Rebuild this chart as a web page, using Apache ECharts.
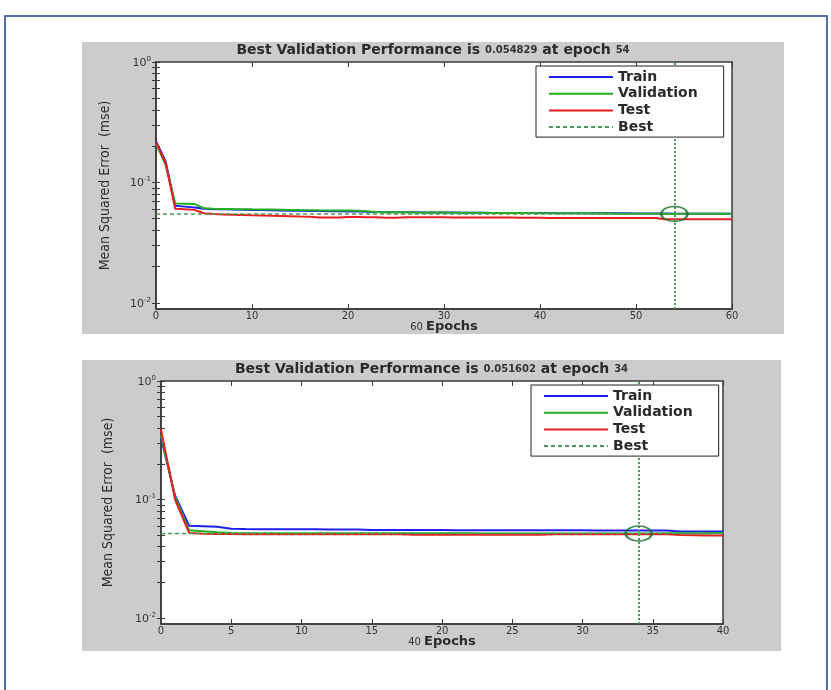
<!DOCTYPE html>
<html>
<head>
<meta charset="utf-8">
<title>Best Validation Performance</title>
<script src="https://cdn.jsdelivr.net/npm/echarts@6/dist/echarts.min.js"></script>
<style>
  html, body { margin: 0; padding: 0; background: #fff; }
  body { width: 831px; height: 690px; position: relative; overflow: hidden; }
  .frame { position: absolute; left: 4px; top: 15px; width: 820px; height: 700px; border: 2px solid #4f72aa; }
  .panel { position: absolute; background: #cccccc; }
  #perf60 { left: 82px; top: 42px; width: 702px; height: 292px; }
  #perf40 { left: 82px; top: 360px; width: 699px; height: 291px; }
</style>
</head>
<body>
<div class="frame"></div>
<div id="perf60" class="panel"></div>
<div id="perf40" class="panel"></div>
<script>
// log axis ticks (MATLAB style: decades + minor 2..9)
const yTickValues = [0.01, 0.02, 0.03, 0.04, 0.05, 0.06, 0.07, 0.08, 0.09,
  0.1, 0.2, 0.3, 0.4, 0.5, 0.6, 0.7, 0.8, 0.9, 1]
const yLabelValues = [0.01, 0.1, 1]
const yMin = 0.0089
const yMax = 1

// run 1: 60 epochs, values per epoch 0..60
const train60 = [
  0.220, 0.150, 0.064, 0.063, 0.062, 0.0605, 0.0600, 0.0598, 0.0595, 0.0593,
  0.0590, 0.0590, 0.0588, 0.0585, 0.0583, 0.0582, 0.0580, 0.0580, 0.0578, 0.0577,
  0.0575, 0.0573, 0.0570, 0.0568, 0.0567, 0.0566, 0.0565, 0.0565, 0.0564, 0.0563,
  0.0562, 0.0562, 0.0561, 0.0560, 0.0560, 0.0559, 0.0558, 0.0558, 0.0558, 0.0557,
  0.0557, 0.0557, 0.0556, 0.0556, 0.0556, 0.0555, 0.0555, 0.0555, 0.0554, 0.0554,
  0.0553, 0.0553, 0.0552, 0.0552, 0.0551, 0.0551, 0.0551, 0.0550, 0.0550, 0.0550, 0.0550
]
const validation60 = [
  0.210, 0.140, 0.067, 0.0667, 0.0663, 0.0610, 0.0605, 0.0603, 0.0601, 0.0600,
  0.0598, 0.0597, 0.0596, 0.0594, 0.0592, 0.0590, 0.0589, 0.0587, 0.0586, 0.0585,
  0.0584, 0.0583, 0.0576, 0.0569, 0.0567, 0.0566, 0.0565, 0.0564, 0.0563, 0.0562,
  0.0562, 0.0561, 0.0561, 0.0560, 0.0560, 0.0559, 0.0559, 0.0558, 0.0557, 0.0557,
  0.0556, 0.0556, 0.0555, 0.0555, 0.0554, 0.0554, 0.0553, 0.0552, 0.0551, 0.0550,
  0.0550, 0.0549, 0.0549, 0.0549, 0.054829, 0.0549, 0.0549, 0.0550, 0.0550, 0.0550, 0.0551
]
const test60 = [
  0.215, 0.145, 0.0605, 0.0600, 0.0592, 0.0555, 0.0546, 0.0543, 0.0540, 0.0537,
  0.0534, 0.0532, 0.0530, 0.0527, 0.0524, 0.0521, 0.0519, 0.0512, 0.0511, 0.0511,
  0.0516, 0.0516, 0.0515, 0.0515, 0.0510, 0.0510, 0.0514, 0.0514, 0.0513, 0.0513,
  0.0513, 0.0512, 0.0512, 0.0512, 0.0511, 0.0511, 0.0511, 0.0511, 0.0510, 0.0510,
  0.0510, 0.0508, 0.0508, 0.0508, 0.0508, 0.0508, 0.0507, 0.0507, 0.0507, 0.0507,
  0.0507, 0.0506, 0.0506, 0.0496, 0.0495, 0.0495, 0.0495, 0.0495, 0.0495, 0.0495, 0.0495
]
const bestEpoch60 = 54
const bestValue60 = 0.054829

// run 2: 40 epochs, values per epoch 0..40
const train40 = [
  0.330, 0.108, 0.0600, 0.0595, 0.0588, 0.0566, 0.0563, 0.0562, 0.0561, 0.0560,
  0.0560, 0.0560, 0.0559, 0.0559, 0.0558, 0.0554, 0.0553, 0.0553, 0.0552, 0.0552,
  0.0552, 0.0551, 0.0551, 0.0551, 0.0550, 0.0550, 0.0550, 0.0549, 0.0549, 0.0549,
  0.0549, 0.0548, 0.0548, 0.0548, 0.0548, 0.0547, 0.0547, 0.0538, 0.0537, 0.0537, 0.0536
]
const validation40 = [
  0.350, 0.105, 0.0550, 0.0540, 0.0530, 0.0521, 0.0520, 0.0520, 0.0519, 0.0519,
  0.0519, 0.0519, 0.0518, 0.0518, 0.0518, 0.0518, 0.0518, 0.0518, 0.0518, 0.0518,
  0.0518, 0.0518, 0.0518, 0.0517, 0.0517, 0.0517, 0.0517, 0.0517, 0.0517, 0.0517,
  0.0517, 0.0517, 0.0517, 0.0517, 0.051602, 0.0517, 0.0518, 0.0518, 0.0519, 0.0520, 0.0521
]
const test40 = [
  0.390, 0.100, 0.0522, 0.0515, 0.0512, 0.0511, 0.0510, 0.0510, 0.0510, 0.0510,
  0.0510, 0.0510, 0.0510, 0.0509, 0.0509, 0.0509, 0.0509, 0.0509, 0.0505, 0.0505,
  0.0505, 0.0505, 0.0505, 0.0505, 0.0505, 0.0505, 0.0505, 0.0505, 0.0508, 0.0508,
  0.0508, 0.0508, 0.0508, 0.0508, 0.0508, 0.0508, 0.0508, 0.0502, 0.0500, 0.0498, 0.0496
]
const bestEpoch40 = 34
const bestValue40 = 0.051602

const axisColor = '#3a3a3a'
const textColor = '#2a2a2a'
const wideFont = 'DejaVu Sans, Verdana, sans-serif'
const narrowFont = "'Liberation Sans Narrow', 'DejaVu Sans Condensed', 'Arial Narrow', sans-serif"
const bestColor = '#4a9a5a'

const lineSeries = (name, values, color) => ({
  name,
  type: 'line',
  data: values.map((v, i) => [i, v]),
  symbol: 'none',
  lineStyle: { color, width: 2 },
  itemStyle: { color }
})

const getOption = (cfg) => ({
  animation: false,
  title: {
    text: `{a|Best Validation Performance is }{b|${cfg.bestValue}}{a| at epoch }{b|${cfg.bestEpoch}}`,
    left: 'center',
    top: cfg.titleTop,
    padding: 0,
    textStyle: {
      rich: {
        a: { fontFamily: wideFont, fontWeight: 'bold', fontSize: 14, color: textColor, lineHeight: 16 },
        b: { fontFamily: wideFont, fontSize: 10, color: '#333', lineHeight: 16 }
      }
    }
  },
  grid: {
    ...cfg.grid,
    outerBoundsMode: 'none',
    show: true,
    backgroundColor: '#fff',
    borderColor: axisColor,
    borderWidth: 1.5
  },
  legend: {
    data: ['Train', 'Validation', 'Test', 'Best'],
    orient: 'vertical',
    left: cfg.legend.left,
    top: cfg.legend.top,
    z: 10,
    selectedMode: false,
    backgroundColor: '#fff',
    borderColor: '#222',
    borderWidth: 1,
    padding: [4, 26, 3, 12],
    itemWidth: 64,
    itemHeight: 14,
    itemGap: 2.7,
    itemStyle: { opacity: 0 },
    lineStyle: { opacity: 1 },
    textStyle: { fontFamily: wideFont, fontWeight: 'bold', fontSize: 14, color: textColor, lineHeight: 14 }
  },
  xAxis: [
    {
      type: 'value',
      position: 'bottom',
      min: 0,
      max: cfg.maxEpoch,
      interval: cfg.xStep,
      axisLine: { show: true, onZero: false, lineStyle: { color: axisColor, width: 1.5 } },
      axisTick: { inside: true, length: 5, lineStyle: { color: axisColor } },
      axisLabel: { fontFamily: wideFont, fontSize: 10, color: '#333', margin: 2 },
      splitLine: { show: false },
      name: `{n|${cfg.maxEpoch} }{e|Epochs}`,
      nameLocation: 'middle',
      nameGap: 11.5,
      nameMoveOverlap: false,
      nameTextStyle: {
        rich: {
          n: { fontFamily: wideFont, fontSize: 10, color: '#333', lineHeight: 13 },
          e: { fontFamily: wideFont, fontWeight: 'bold', fontSize: 13, color: textColor, lineHeight: 13 }
        }
      }
    },
    {
      type: 'value',
      position: 'top',
      min: 0,
      max: cfg.maxEpoch,
      interval: cfg.xStep,
      axisLine: { show: false },
      axisTick: { inside: true, length: 5, lineStyle: { color: axisColor } },
      axisLabel: { show: false },
      splitLine: { show: false }
    }
  ],
  yAxis: [
    {
      type: 'log',
      position: 'left',
      min: yMin,
      max: yMax,
      axisLine: { show: true, onZero: false, lineStyle: { color: axisColor, width: 1.5 } },
      axisTick: { inside: true, length: 4, customValues: yTickValues, lineStyle: { color: axisColor } },
      axisLabel: {
        customValues: yLabelValues,
        margin: 5,
        formatter: (v) => `{b|10}{s|${Math.round(Math.log10(v))}}`,
        rich: {
          b: { fontFamily: wideFont, fontSize: 11, color: '#333', verticalAlign: 'bottom', lineHeight: 13, padding: [4, 0, 0, 0] },
          s: { fontFamily: wideFont, fontSize: 7, color: '#333', verticalAlign: 'top', lineHeight: 8 }
        }
      },
      splitLine: { show: false },
      name: 'Mean Squared Error  (mse)',
      nameLocation: 'middle',
      nameGap: cfg.yNameGap,
      nameMoveOverlap: false,
      nameTextStyle: { fontFamily: narrowFont, fontSize: 14, color: textColor }
    },
    {
      type: 'log',
      position: 'right',
      min: yMin,
      max: yMax,
      axisLine: { show: false },
      axisTick: { inside: true, length: 4, customValues: yTickValues, lineStyle: { color: axisColor } },
      axisLabel: { show: false },
      splitLine: { show: false }
    }
  ],
  series: [
    lineSeries('Train', cfg.train, '#1f1fef'),
    lineSeries('Validation', cfg.validation, '#22b022'),
    lineSeries('Test', cfg.test, '#e81f1f'),
    {
      // horizontal best line across the whole run, vertical one at the best epoch
      name: 'Best',
      type: 'line',
      data: [[0, cfg.bestValue], [cfg.maxEpoch, cfg.bestValue]],
      symbol: 'none',
      lineStyle: { color: bestColor, width: 1.5, type: [4, 3] },
      itemStyle: { color: bestColor },
      markLine: {
        silent: true,
        precision: 6,
        symbol: ['none', 'none'],
        label: { show: false },
        lineStyle: { color: bestColor, width: 2, type: [2, 2] },
        data: [{ xAxis: cfg.bestEpoch }]
      }
    },
    {
      name: 'Best point',
      type: 'scatter',
      data: [[cfg.bestEpoch, cfg.bestValue]],
      symbol: 'circle',
      symbolSize: [26, 15],
      itemStyle: { color: 'rgba(0,0,0,0)', borderColor: '#1d6e2a', borderWidth: 2 },
      z: 5
    }
  ]
})

const chart60 = echarts.init(document.getElementById('perf60'))
chart60.setOption(getOption({
  train: train60,
  validation: validation60,
  test: test60,
  bestEpoch: bestEpoch60,
  bestValue: bestValue60,
  maxEpoch: 60,
  xStep: 10,
  titleTop: 0,
  grid: { left: 74, right: 52, top: 20, bottom: 25 },
  legend: { left: 454, top: 24 },
  yNameGap: 44
}))

const chart40 = echarts.init(document.getElementById('perf40'))
chart40.setOption(getOption({
  train: train40,
  validation: validation40,
  test: test40,
  bestEpoch: bestEpoch40,
  bestValue: bestValue40,
  maxEpoch: 40,
  xStep: 5,
  titleTop: 1,
  grid: { left: 79, right: 58, top: 21, bottom: 27 },
  legend: { left: 449, top: 25 },
  yNameGap: 46
}))
</script>
</body>
</html>
